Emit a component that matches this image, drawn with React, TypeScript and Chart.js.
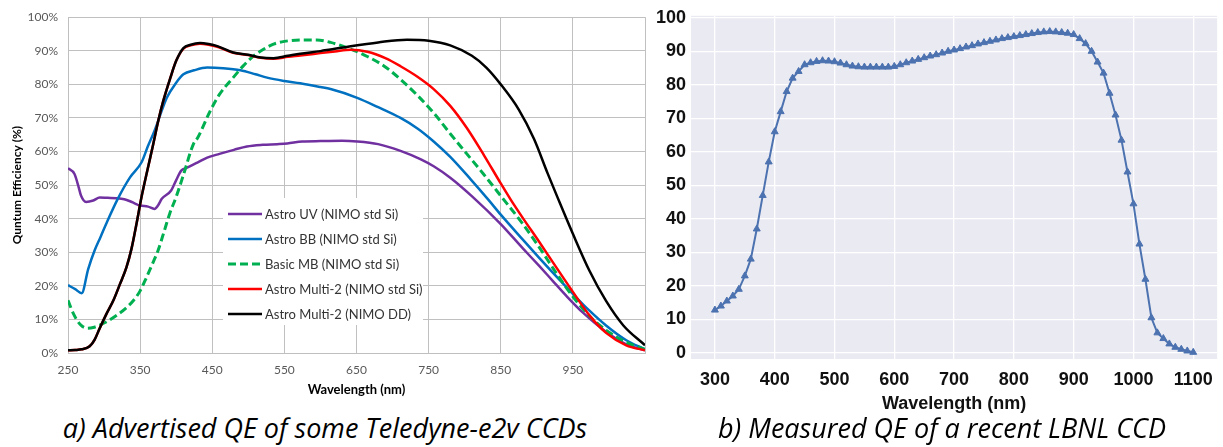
import React, { useEffect, useRef } from 'react';
import { Chart, registerables } from 'chart.js';
Chart.register(...registerables);

// ---------- Panel a) Advertised QE (Teledyne-e2v) ----------
const seriesNamesA = [
  'Astro UV (NIMO std Si)',
  'Astro BB (NIMO std Si)',
  'Basic MB (NIMO std Si)',
  'Astro Multi-2 (NIMO std Si)',
  'Astro Multi-2 (NIMO DD)',
];

const uvX = [250, 259, 264, 268, 275, 285, 294, 305, 317, 328, 336, 343, 350, 361, 370, 375, 380, 393, 400, 407, 415, 430, 443, 460, 480, 498, 520, 540, 554, 575, 600, 630, 651, 680, 711, 740, 757, 780, 811, 850, 880, 903, 922, 941, 964, 996, 1024, 1050];
const uvY = [55, 53.3, 50, 46.9, 45, 45.4, 46.3, 46.2, 46.1, 45.8, 45.2, 44.5, 43.9, 43.6, 42.9, 44, 45.9, 48.4, 51.5, 54.3, 55.2, 56.8, 58.2, 59.3, 60.5, 61.5, 62, 62.2, 62.4, 63, 63.1, 63.2, 63, 62.2, 60.2, 57.6, 55.6, 52.2, 46.5, 38.4, 31.3, 26, 21.5, 17, 12, 6.3, 2.6, 0.8];

const bbX = [250, 260, 269, 278, 287, 295, 303, 319, 336, 352, 361, 370, 387, 400, 410, 425, 443, 465, 489, 510, 526, 550, 572, 600, 614, 651, 680, 711, 735, 757, 780, 808, 833, 850, 880, 903, 927, 950, 973, 996, 1024, 1050];
const bbY = [20.2, 19, 17.8, 25, 30.6, 34.5, 38.5, 45.9, 52.3, 56.8, 61.7, 66.2, 76, 80.5, 83, 84.2, 85, 84.8, 84.2, 83, 82, 81, 80.3, 79.2, 78.6, 76, 73.2, 70, 66.8, 63, 58.4, 51.8, 45.6, 41.2, 33.9, 28.4, 22.8, 17.6, 12.6, 8.2, 3.8, 1.1];

const mbX = [250, 258, 267, 276, 285, 294, 305, 318, 330, 341, 350, 359, 368, 375, 383, 391, 400, 410, 424, 430, 447, 460, 479, 493, 507, 520, 535, 550, 572, 595, 614, 642, 665, 688, 711, 735, 757, 780, 803, 826, 850, 880, 903, 927, 950, 973, 996, 1024, 1050];
const mbY = [15.7, 11.5, 8.5, 7.4, 7.6, 8.3, 9.5, 11.3, 13.3, 15.7, 18.5, 22.6, 27, 30.6, 36, 41.5, 46.5, 53, 62.3, 64.2, 72, 77, 82, 85.5, 88.4, 90.3, 92, 92.8, 93.2, 93.2, 92.5, 90.5, 88.3, 85.5, 81.5, 76.6, 71.5, 65.3, 59.3, 53.3, 46.8, 38.6, 31.6, 23.8, 16.8, 11, 6.8, 3.2, 1.1];

const m2X = [250, 260, 269, 280, 287, 294, 303, 313, 322, 331, 338, 345, 352, 361, 368, 375, 382, 392, 400, 410, 420, 433, 445, 457, 479, 500, 517, 535, 555, 572, 600, 620, 642, 665, 690, 711, 735, 757, 780, 803, 827, 850, 864, 880, 903, 927, 950, 973, 996, 1024, 1050];
const m2Y = [0.8, 0.9, 1.1, 2, 4, 7.4, 11.5, 15.7, 20.5, 25.5, 31, 38.5, 46.5, 55.3, 62, 69, 75, 82, 87, 90.6, 91.6, 92.1, 91.8, 91.2, 89.4, 88.7, 87.9, 87.6, 88.2, 88.6, 89.3, 89.8, 90.3, 89.7, 87.8, 85.4, 82.2, 78.6, 73.6, 67, 58.8, 50.5, 45.6, 40.4, 33.2, 25.5, 18.2, 11.2, 6, 2.3, 0.8];

const ddX = [250, 260, 269, 280, 287, 294, 303, 313, 322, 331, 338, 345, 352, 361, 368, 375, 382, 392, 400, 410, 420, 433, 445, 457, 479, 500, 517, 535, 555, 572, 600, 614, 640, 680, 720, 750, 780, 810, 830, 850, 875, 896, 915, 929, 950, 973, 996, 1020, 1050];
const ddY = [0.8, 0.9, 1.1, 2, 4, 7.4, 11.5, 15.7, 20.5, 25.5, 31, 38.5, 46.5, 55.3, 62, 69, 75, 82, 87, 90.8, 91.8, 92.3, 92, 91.4, 89.5, 88.8, 88, 87.8, 88.5, 89.1, 89.9, 90.4, 91.3, 92.5, 93.3, 93, 91.6, 88.5, 85, 80, 72.5, 63.8, 53.5, 46.2, 35.5, 24.5, 15.5, 8.2, 2.3];

const colorsA = ['#7030A0', '#0070C0', '#00B050', '#FF0000', '#000000'];
const xTicksA = [250, 350, 450, 550, 650, 750, 850, 950, 1050];
const yTicksA = [0, 10, 20, 30, 40, 50, 60, 70, 80, 90, 100];

// ---------- Panel b) Measured QE (LBNL) ----------
const wavelengthsB = [300, 310, 320, 330, 340, 350, 360, 370, 380, 390, 400, 410, 420, 430, 440, 450, 460, 470, 480, 490, 500, 510, 520, 530, 540, 550, 560, 570, 580, 590, 600, 610, 620, 630, 640, 650, 660, 670, 680, 690, 700, 710, 720, 730, 740, 750, 760, 770, 780, 790, 800, 810, 820, 830, 840, 850, 860, 870, 880, 890, 900, 910, 920, 930, 940, 950, 960, 970, 980, 990, 1000, 1010, 1020, 1030, 1040, 1050, 1060, 1070, 1080, 1090, 1100];
const qeB = [12.8, 14, 15.5, 17, 19, 23, 28, 37, 47, 57, 66, 72, 78, 82, 84, 86, 86.6, 87, 87.2, 87.1, 86.9, 86.5, 86, 85.6, 85.4, 85.3, 85.3, 85.3, 85.3, 85.3, 85.5, 86, 86.6, 87.1, 87.6, 88.1, 88.6, 89, 89.5, 90, 90.4, 90.8, 91.3, 91.7, 92.2, 92.6, 93, 93.4, 93.8, 94.1, 94.4, 94.7, 95, 95.3, 95.6, 95.8, 95.9, 95.8, 95.6, 95.4, 95, 93.8, 92.3, 90, 86.8, 83.5, 77.5, 71, 63.5, 54, 44.5, 32.5, 22, 10.5, 6, 4.3, 2.7, 1.7, 1.1, 0.6, 0.2];
const xTicksB = [300, 400, 500, 600, 700, 800, 900, 1000, 1100];
const yTicksB = [0, 10, 20, 30, 40, 50, 60, 70, 80, 90, 100];

const toPts = (xs: number[], ys: number[]) => xs.map((x, i) => ({ x, y: ys[i] }));

const legendPlugin = {
  id: 'excelLegend',
  beforeDatasetsDraw(chart: any) {
    const ctx = chart.ctx;
    ctx.save();
    ctx.fillStyle = '#ffffff';
    ctx.fillRect(223, 198, 200, 127);
    const ds = chart.data.datasets;
    ctx.font = '13px Lato';
    ctx.textBaseline = 'middle';
    ctx.textAlign = 'left';
    seriesNamesA.forEach((name, i) => {
      const d = ds[i];
      const y = 214 + i * 25;
      ctx.strokeStyle = d.borderColor;
      ctx.lineWidth = d.borderWidth;
      ctx.setLineDash(d.borderDash || []);
      ctx.beginPath();
      ctx.moveTo(228, y);
      ctx.lineTo(262, y);
      ctx.stroke();
      ctx.setLineDash([]);
      ctx.fillStyle = '#333333';
      ctx.fillText(name, 265, y + 1);
    });
    ctx.restore();
  },
};

const bgPlugin = {
  id: 'seabornBg',
  beforeDraw(chart: any) {
    const { ctx, chartArea } = chart;
    ctx.save();
    ctx.fillStyle = '#EAEAF2';
    ctx.fillRect(chartArea.left, chartArea.top, chartArea.right - chartArea.left, chartArea.bottom - chartArea.top);
    ctx.restore();
  },
};

function ChartA() {
  const ref = useRef<HTMLCanvasElement>(null);
  useEffect(() => {
    const xs = [uvX, bbX, mbX, m2X, ddX];
    const ys = [uvY, bbY, mbY, m2Y, ddY];
    const chart = new Chart(ref.current!, {
      type: 'line',
      data: {
        datasets: seriesNamesA.map((name, i) => ({
          label: name,
          data: toPts(xs[i], ys[i]),
          borderColor: colorsA[i],
          backgroundColor: colorsA[i],
          borderWidth: i === 2 ? 3 : 2.5,
          borderDash: i === 2 ? [8, 4] : [],
          pointRadius: 0,
          cubicInterpolationMode: 'monotone',
          fill: false,
          order: 5 - i,
        })),
      },
      options: {
        animation: false,
        responsive: false,
        maintainAspectRatio: false,
        layout: { padding: { top: 16, right: 5, left: 0, bottom: 0 } },
        plugins: { legend: { display: false }, tooltip: { enabled: false } },
        scales: {
          x: {
            type: 'linear',
            min: 250,
            max: 1050,
            afterBuildTicks: (s: any) => { s.ticks = xTicksA.map((v) => ({ value: v })); },
            afterFit: (s: any) => { s.height = 47; },
            grid: { color: '#c0c0c0', lineWidth: 1, drawTicks: true, tickLength: 10, tickColor: 'rgba(0,0,0,0)' },
            border: { color: '#bfbfbf' },
            ticks: {
              padding: 0,
              color: '#595959',
              font: { family: 'Lato', size: 12 },
              maxRotation: 0,
              autoSkip: false,
              callback: (v: any) => (v === 1050 ? '' : String(v)),
            },
            title: {
              display: true,
              text: 'Wavelength (nm)',
              color: '#000000',
              font: { family: 'Lato', size: 13, weight: 'bold' },
              padding: { top: 0, bottom: 2 },
            },
          },
          y: {
            type: 'linear',
            min: 0,
            max: 100,
            afterBuildTicks: (s: any) => { s.ticks = yTicksA.map((v) => ({ value: v })); },
            afterFit: (s: any) => { s.width = 68; },
            grid: { color: '#c0c0c0', lineWidth: 1, drawTicks: false },
            border: { color: '#bfbfbf' },
            ticks: {
              padding: 10,
              color: '#595959',
              font: { family: 'Lato', size: 12 },
              callback: (v: any) => v + '%',
            },
            title: {
              display: true,
              text: 'Quntum Efficiency (%)',
              color: '#000000',
              font: { family: 'Lato', size: 12, weight: 'bold' },
              padding: { top: 10, bottom: 0 },
            },
          },
        },
      },
      plugins: [legendPlugin],
    } as any);
    return () => chart.destroy();
  }, []);
  return <canvas ref={ref} width={650} height={400} style={{ position: 'absolute', left: 0, top: 0 }} />;
}

function ChartB() {
  const ref = useRef<HTMLCanvasElement>(null);
  useEffect(() => {
    const chart = new Chart(ref.current!, {
      type: 'line',
      data: {
        datasets: [
          {
            label: 'Measured QE',
            data: toPts(wavelengthsB, qeB),
            borderColor: '#4C72B0',
            backgroundColor: '#4C72B0',
            borderWidth: 2,
            pointStyle: 'triangle',
            pointRadius: 4,
            pointBorderWidth: 1,
            tension: 0,
            fill: false,
          },
        ],
      },
      options: {
        animation: false,
        responsive: false,
        maintainAspectRatio: false,
        layout: { padding: { top: 15, right: 5, left: 0, bottom: 0 } },
        plugins: { legend: { display: false }, tooltip: { enabled: false } },
        scales: {
          x: {
            type: 'linear',
            min: 260,
            max: 1140,
            afterBuildTicks: (s: any) => { s.ticks = xTicksB.map((v) => ({ value: v })); },
            afterFit: (s: any) => { s.height = 61; },
            grid: { color: '#ffffff', lineWidth: 1.3, drawTicks: false },
            border: { display: false },
            ticks: {
              padding: 10,
              color: '#111111',
              font: { family: 'Liberation Sans', size: 18, weight: 'bold' },
              maxRotation: 0,
              autoSkip: false,
              callback: (v: any) => String(v),
            },
            title: {
              display: true,
              text: 'Wavelength (nm)',
              color: '#111111',
              font: { family: 'Liberation Sans', size: 18, weight: 'bold' },
              padding: { top: 0, bottom: 5 },
            },
          },
          y: {
            type: 'linear',
            min: -1.8,
            max: 100.6,
            afterBuildTicks: (s: any) => { s.ticks = yTicksB.map((v) => ({ value: v })); },
            afterFit: (s: any) => { s.width = 41; },
            grid: { color: '#ffffff', lineWidth: 1.3, drawTicks: false },
            border: { display: false },
            ticks: {
              padding: 5,
              color: '#111111',
              font: { family: 'Liberation Sans', size: 18, weight: 'bold' },
              callback: (v: any) => String(v),
            },
          },
        },
      },
      plugins: [bgPlugin],
    } as any);
    return () => chart.destroy();
  }, []);
  return <canvas ref={ref} width={573} height={420} style={{ position: 'absolute', left: 650, top: 0 }} />;
}

export default function App() {
  const cap: React.CSSProperties = {
    position: 'absolute',
    width: 640,
    textAlign: 'center',
    fontFamily: '"Open Sans", sans-serif',
    fontStyle: 'italic',
    fontSize: 27,
    color: '#000',
    whiteSpace: 'nowrap',
    top: 409,
  };
  return (
    <div style={{ position: 'absolute', left: 0, top: 0, width: 1223, height: 447, background: '#fff', overflow: 'hidden' }}>
      <ChartA />
      <ChartB />
      <div style={{ ...cap, left: 325 - 320 }}>a) Advertised QE of some Teledyne-e2v CCDs</div>
      <div style={{ ...cap, left: 942 - 320 }}>b) Measured QE of a recent LBNL CCD</div>
    </div>
  );
}
